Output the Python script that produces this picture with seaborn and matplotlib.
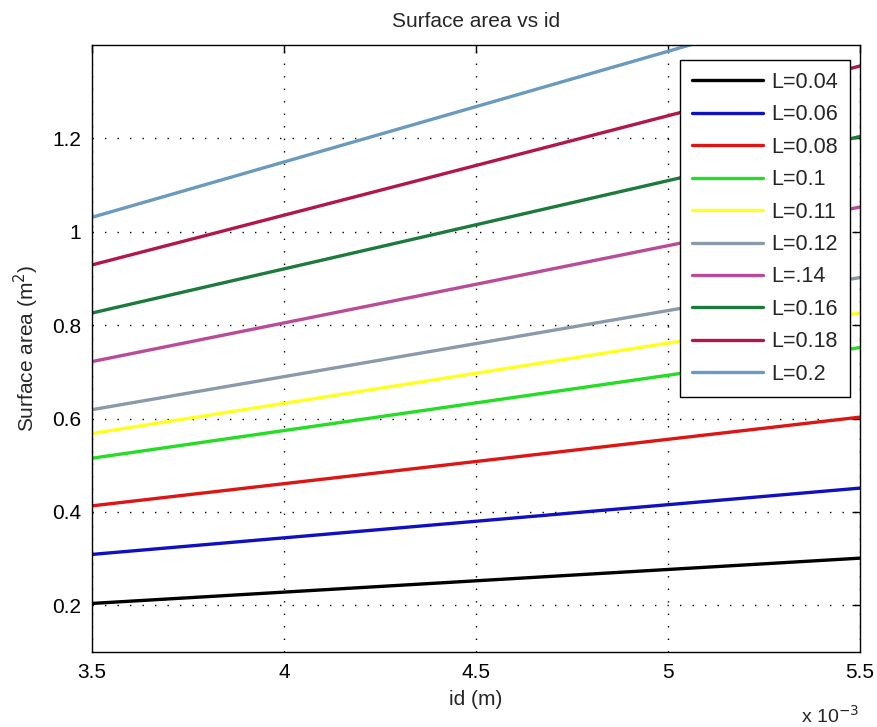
import numpy as np
import pandas as pd
import seaborn as sns
import matplotlib
matplotlib.use("Agg")
import matplotlib.pyplot as plt
from matplotlib.ticker import FuncFormatter

# ---- data ----
labels = ["L=0.04", "L=0.06", "L=0.08", "L=0.1", "L=0.11",
          "L=0.12", "L=.14", "L=0.16", "L=0.18", "L=0.2"]
id_m = [3.5e-3, 5.5e-3]
area_start = [0.204, 0.309, 0.413, 0.515, 0.568, 0.619, 0.722, 0.826, 0.929, 1.031]
area_end = [0.301, 0.451, 0.603, 0.752, 0.826, 0.902, 1.053, 1.204, 1.355, 1.505]
colors = ["#000000", "#1010c0", "#dd1515", "#25dd25", "#ffff20",
          "#8a9aab", "#b84c98", "#1c7a3c", "#b0184a", "#6a9abd"]
x_ticks = [3.5e-3, 4.0e-3, 4.5e-3, 5.0e-3, 5.5e-3]
y_ticks = [0.2, 0.4, 0.6, 0.8, 1.0, 1.2]

rows = []
for lab, a0, a1 in zip(labels, area_start, area_end):
    rows.append({"id": id_m[0], "area": a0, "series": lab})
    rows.append({"id": id_m[1], "area": a1, "series": lab})
df = pd.DataFrame(rows)

sns.set_style("white")
plt.rcParams["font.family"] = ["Liberation Sans", "DejaVu Sans"]

fig = plt.figure(figsize=(8.78, 7.27), dpi=100)
ax = fig.add_axes([92 / 878, 1 - 652 / 727, 768 / 878, 607 / 727])

sns.lineplot(data=df, x="id", y="area", hue="series", hue_order=labels,
             palette=dict(zip(labels, colors)), estimator=None, sort=False,
             linewidth=2.4, ax=ax, legend=True)

ax.set_xlim(3.5e-3, 5.5e-3)
ax.set_ylim(0.1, 1.4)
ax.set_xticks(x_ticks)
ax.set_yticks(y_ticks)
ax.xaxis.set_major_formatter(FuncFormatter(lambda v, p: f"{v * 1e3:g}"))
ax.yaxis.set_major_formatter(FuncFormatter(lambda v, p: f"{v:g}"))
ax.tick_params(direction="in", top=True, right=True, length=6, width=1,
               labelsize=15, colors="black", pad=8)
ax.grid(True, linestyle=(0, (1, 8)), color="black", linewidth=1.0)
for s in ax.spines.values():
    s.set_color("black")
    s.set_linewidth(1.0)
    s.set_visible(True)

ax.set_title("Surface area vs id", fontsize=15, pad=13)
ax.set_xlabel("id (m)", fontsize=15, labelpad=6)
ax.set_ylabel("Surface area (m$^2$)", fontsize=15, labelpad=8)
fig.text(830 / 878, 1 - 716 / 727, "x 10$^{-3}$", fontsize=14, ha="center", va="center")

handles, labs = ax.get_legend_handles_labels()
leg = ax.legend(handles, labs, loc="upper right", bbox_to_anchor=(0.987, 0.975),
                fontsize=15.5, frameon=True, fancybox=False, framealpha=1,
                edgecolor="black", handlelength=3.3, handletextpad=0.4,
                labelspacing=0.53, borderpad=0.55, borderaxespad=0)
leg.get_frame().set_linewidth(1.0)
for h in leg.legend_handles:
    h.set_linewidth(2.4)

fig.savefig("out.png", dpi=100, facecolor="white")
